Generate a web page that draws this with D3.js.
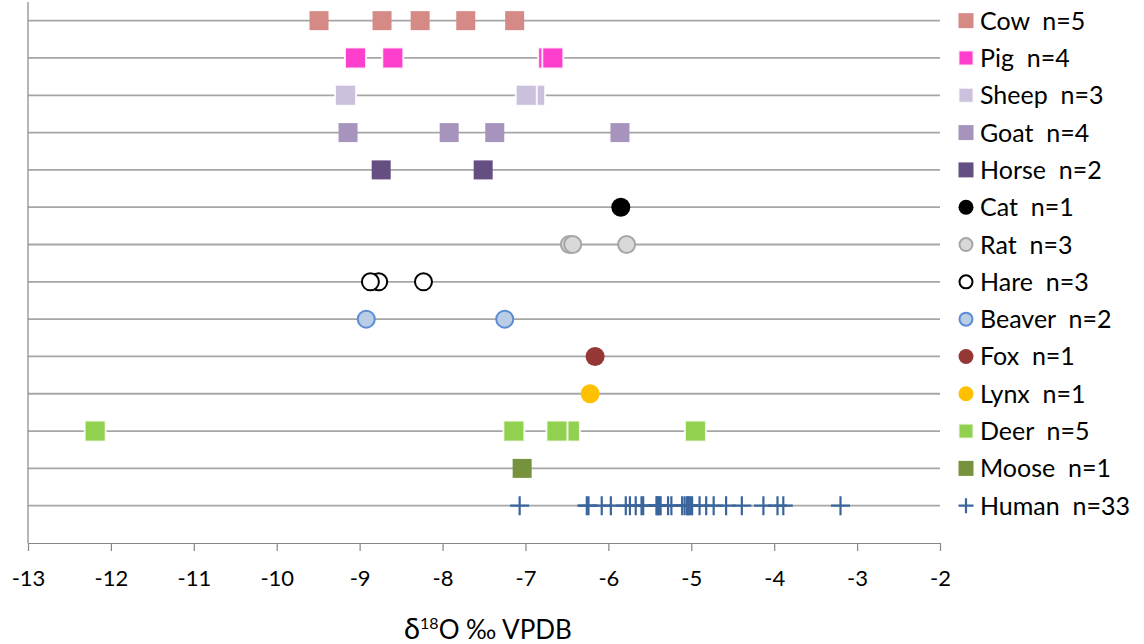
<!DOCTYPE html>
<html>
<head>
<meta charset="utf-8">
<script src="https://cdn.jsdelivr.net/npm/d3@7"></script>
<style>
  html, body { margin: 0; padding: 0; background: #ffffff; }
  svg { display: block; font-family: Lato, "Open Sans", sans-serif; }
</style>
</head>
<body>
<svg id="chart" width="1144" height="644"></svg>
<script>
// Species rows, top to bottom
const species = ["Cow", "Pig", "Sheep", "Goat", "Horse", "Cat", "Rat", "Hare", "Beaver", "Fox", "Lynx", "Deer", "Moose", "Human"];
const counts  = [5, 4, 3, 4, 2, 1, 3, 3, 2, 1, 1, 5, 1, 33];

// δ18O values (‰ VPDB) per species, in drawing order
const cow    = [-9.49, -8.73, -8.27, -7.72, -7.13];
const pig    = [-9.05, -8.60, -6.72, -6.67];
const sheep  = [-9.17, -6.89, -6.99];
const goat   = [-9.14, -7.92, -7.37, -5.86];
const horse  = [-8.74, -7.51];
const cat    = [-5.85];
const rat    = [-6.47, -6.43, -5.78];
const hare   = [-8.77, -8.87, -8.23];
const beaver = [-8.92, -7.25];
const fox    = [-6.16];
const lynx   = [-6.22];
const deer   = [-12.19, -7.14, -6.47, -6.62, -4.95];
const moose  = [-7.04];
const human  = [-7.07, -6.26, -6.24, -6.08, -5.97, -5.79, -5.74, -5.67, -5.60, -5.58,
                -5.42, -5.41, -5.40, -5.38, -5.37, -5.28, -5.24, -5.11, -5.08, -5.05,
                -5.04, -5.03, -5.01, -4.99, -4.90, -4.82, -4.73, -4.58, -4.39, -4.13,
                -3.96, -3.89, -3.20];

const xTicks = [-13, -12, -11, -10, -9, -8, -7, -6, -5, -4, -3, -2];

const values = [cow, pig, sheep, goat, horse, cat, rat, hare, beaver, fox, lynx, deer, moose, human];

// Marker appearance per species
const styles = {
  Cow:    { shape: "square", fill: "#d58a86" },
  Pig:    { shape: "square", fill: "#fe3ecc", edge: true },
  Sheep:  { shape: "square", fill: "#cbc1dc", edge: true },
  Goat:   { shape: "square", fill: "#a794bd" },
  Horse:  { shape: "square", fill: "#654e82" },
  Cat:    { shape: "circle", fill: "#000000" },
  Rat:    { shape: "circle", fill: "#d9d9d9", stroke: "#a6a6a6" },
  Hare:   { shape: "circle", fill: "#ffffff", stroke: "#000000" },
  Beaver: { shape: "circle", fill: "#b9cde5", stroke: "#5b8cd6" },
  Fox:    { shape: "circle", fill: "#953735" },
  Lynx:   { shape: "circle", fill: "#ffc000" },
  Deer:   { shape: "square", fill: "#92d050", edge: true },
  Moose:  { shape: "square", fill: "#76923c" },
  Human:  { shape: "plus", stroke: "#3a659c" }
};

const svg = d3.select("#chart");

const x = d3.scaleLinear().domain([-13, -2]).range([28, 940]);
const y = d3.scaleLinear().domain([0, 14.5]).range([543, 2]);
const rowValue = i => species.length - i;   // Cow = 14 ... Human = 1

// Horizontal gridlines at each row
svg.append("g")
  .selectAll("line")
  .data(d3.range(1, 15))
  .join("line")
  .attr("x1", x(-13)).attr("x2", x(-2))
  .attr("y1", d => y(d)).attr("y2", d => y(d))
  .attr("stroke", "#a6a6a6")
  .attr("stroke-width", 1.8);

// Vertical axis line
svg.append("line")
  .attr("x1", x(-13)).attr("x2", x(-13))
  .attr("y1", y(14.5)).attr("y2", y(0))
  .attr("stroke", "#868686")
  .attr("stroke-width", 1.2);

// Bottom axis
const xAxis = svg.append("g")
  .attr("transform", `translate(0,${y(0)})`)
  .call(d3.axisBottom(x).tickValues(xTicks).tickSize(8).tickSizeOuter(0).tickFormat(d => String(d)));
xAxis.select(".domain").attr("stroke", "#868686").attr("stroke-width", 1.2);
xAxis.selectAll(".tick line").attr("stroke", "#868686").attr("stroke-width", 1.2);
xAxis.selectAll(".tick text")
  .attr("y", 43).attr("dy", 0)
  .attr("fill", "#000000")
  .style("font-family", "Lato, 'Open Sans', sans-serif")
  .style("font-size", "22px");

// Axis title
const title = svg.append("text")
  .attr("x", 488).attr("y", 639)
  .attr("text-anchor", "middle")
  .style("font-size", "26px")
  .attr("fill", "#000000");
title.append("tspan").style("font-size", "29px").text("δ");
title.append("tspan").attr("dy", -10).style("font-size", "16px").text("18");
title.append("tspan").attr("dy", 10).text("O ‰ VPDB");

// Draw one marker into a group at (cx, cy)
function drawMarker(g, st, cx, cy, size) {
  const h = size / 2;
  if (st.shape === "square") {
    g.append("rect")
      .attr("x", cx - h).attr("y", cy - h)
      .attr("width", size).attr("height", size)
      .attr("fill", st.fill)
      .attr("stroke", st.edge ? "rgba(255,255,255,0.85)" : "none")
      .attr("stroke-width", st.edge ? 2 : 0);
  } else if (st.shape === "circle") {
    g.append("circle")
      .attr("cx", cx).attr("cy", cy)
      .attr("r", st.stroke ? h - 1 : h)
      .attr("fill", st.fill)
      .attr("stroke", st.stroke || "none")
      .attr("stroke-width", st.stroke ? 2 : 0);
  } else {
    g.append("path")
      .attr("d", `M${cx - h},${cy}H${cx + h}M${cx},${cy - h}V${cy + h}`)
      .attr("stroke", st.stroke)
      .attr("stroke-width", 2.2)
      .attr("fill", "none");
  }
}

// Data markers
const marks = svg.append("g");
species.forEach((name, i) => {
  const st = styles[name];
  const cy = y(rowValue(i));
  const size = st.edge ? 21 : 19;
  values[i].forEach(v => drawMarker(marks, st, x(v), cy, size));
});

// Legend
const legend = svg.append("g");
species.forEach((name, i) => {
  const st = styles[name];
  const cy = y(rowValue(i));
  drawMarker(legend, st, 966, cy, 15);
  legend.append("text")
    .attr("x", 980).attr("y", cy)
    .attr("dy", "0.36em")
    .style("font-size", "25px")
    .attr("fill", "#000000")
    .attr("xml:space", "preserve")
    .style("white-space", "pre")
    .text(`${name}  n=${counts[i]}`);
});
</script>
</body>
</html>
